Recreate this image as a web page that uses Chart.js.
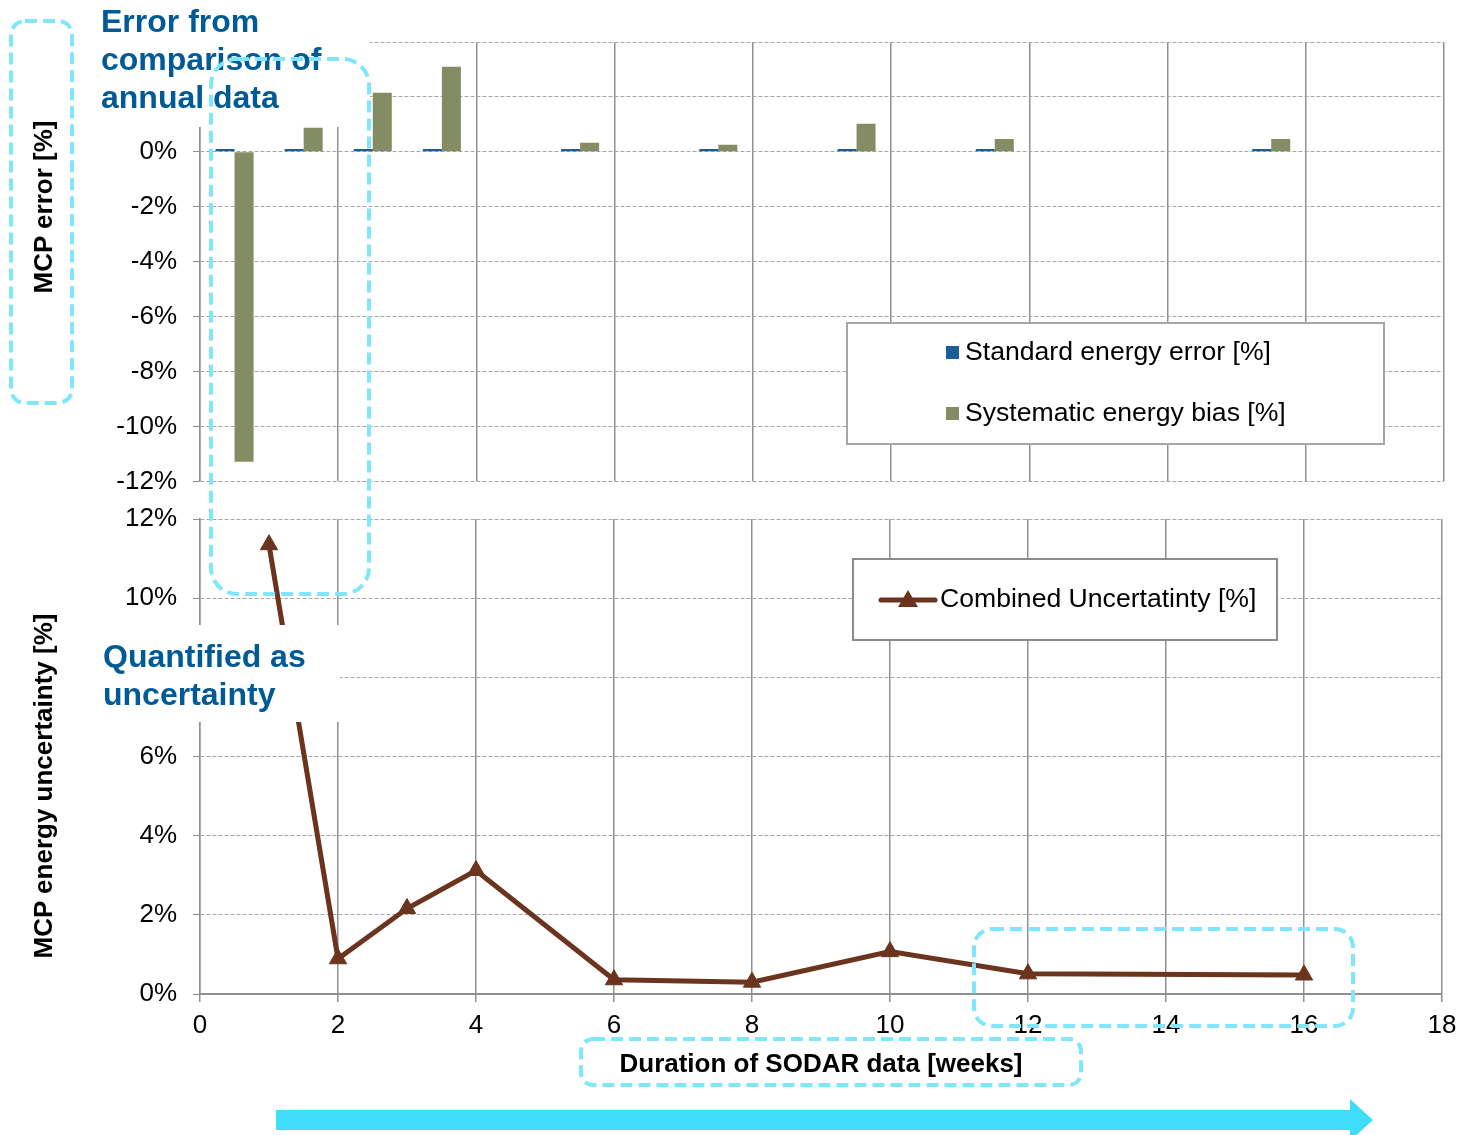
<!DOCTYPE html>
<html lang="en">
<head>
<meta charset="UTF-8">
<title>MCP error and uncertainty vs duration of SODAR data</title>
<script src="https://cdn.jsdelivr.net/npm/chart.js"></script>
<style>
    body { margin: 0; background: #fff; }
    #page { position: relative; width: 1461px; height: 1135px; overflow: hidden; }
    .holder { position: absolute; left: 0; width: 1461px; }
    #topHolder { top: 0; height: 513px; }
    #bottomHolder { top: 480px; height: 574px; }
    #overlay { position: absolute; left: 0; top: 0; pointer-events: none; }
</style>
</head>
<body>
<div id="page">
    <div class="holder" id="topHolder"><canvas id="errorChart"></canvas></div>
    <div class="holder" id="bottomHolder"><canvas id="uncertaintyChart"></canvas></div>

    <svg id="overlay" width="1461" height="1135" viewBox="0 0 1461 1135">
        <!-- white patches behind the callout texts -->
        <rect x="80" y="0" width="290" height="127" fill="#fff"/>
        <rect x="95" y="625" width="245" height="97" fill="#fff"/>
        <g font-family="Liberation Sans, Arial, sans-serif" font-weight="bold" font-size="32" fill="#005A96">
            <text x="101" y="32">Error from</text>
            <text x="101" y="70">comparison of</text>
            <text x="101" y="108">annual data</text>
            <text x="103" y="667">Quantified as</text>
            <text x="103" y="705">uncertainty</text>
        </g>
        <!-- axis titles -->
        <g font-family="Liberation Sans, Arial, sans-serif" font-weight="bold" font-size="26" fill="#000" text-anchor="middle">
            <text transform="translate(52,207) rotate(-90)">MCP error [%]</text>
            <text transform="translate(52,786) rotate(-90)">MCP energy uncertainty [%]</text>
            <text x="821" y="1072">Duration of SODAR data [weeks]</text>
        </g>
        <!-- dashed highlight boxes -->
        <g fill="none" stroke="#7FE6FC" stroke-width="4" stroke-dasharray="12 6">
            <rect x="11" y="21" width="61" height="382" rx="14"/>
            <rect x="211" y="59" width="158" height="535" rx="26"/>
            <rect x="974" y="929" width="379" height="97" rx="18"/>
            <rect x="581" y="1039" width="500" height="46" rx="12"/>
        </g>
        <path d="M276 1110 H1350 V1099 L1373 1120 L1350 1141 V1130 H276 Z" fill="#3FDDFB"/>
    </svg>
</div>

<script>
    // weeks of SODAR data that were tested
    const weeks = [1, 2, 3, 4, 6, 8, 10, 12, 16];
    const standardError = [0.1, 0.1, 0.1, 0.1, 0.1, 0.1, 0.1, 0.1, 0.1];
    const systematicBias = [-11.28, 0.88, 2.15, 3.10, 0.33, 0.26, 1.02, 0.47, 0.47];
    const combinedUncertainty = [11.35, 0.89, 2.16, 3.12, 0.36, 0.30, 1.07, 0.51, 0.48];
    // one category slot per week on the bar chart
    const weekSlots = [1, 2, 3, 4, 5, 6, 7, 8, 9, 10, 11, 12, 13, 14, 15, 16, 17, 18];

    const blue = '#1B5C9A';
    const green = '#838C63';
    const brown = '#6B341E';
    const gridGrey = '#909090';
    const dashGrey = '#a6a6a6';

    Chart.defaults.font.family = '"Liberation Sans", Arial, sans-serif';
    Chart.defaults.font.size = 26;
    Chart.defaults.color = '#000';

    function toSlots(values) {
        return weekSlots.map(w => {
            const i = weeks.indexOf(w);
            return i < 0 ? null : values[i];
        });
    }

    // legend drawn inside the plot, with a frame like the original
    const boxLegend = {
        id: 'boxLegend',
        afterDraw(chart, args, opts) {
            const ctx = chart.ctx;
            ctx.save();
            ctx.fillStyle = '#fff';
            ctx.fillRect(opts.x, opts.y, opts.w, opts.h);
            ctx.strokeStyle = opts.frame;
            ctx.lineWidth = 2;
            ctx.strokeRect(opts.x, opts.y, opts.w, opts.h);
            ctx.font = '26.6px "Liberation Sans", Arial, sans-serif';
            ctx.textBaseline = 'middle';
            chart.data.datasets.forEach((ds, i) => {
                const cy = opts.rows[i];
                if (opts.kind === 'bar') {
                    ctx.fillStyle = ds.backgroundColor;
                    ctx.fillRect(opts.symbolX, cy - 7, 13, 13);
                } else {
                    ctx.strokeStyle = ds.borderColor;
                    ctx.lineWidth = 5;
                    ctx.lineCap = 'round';
                    ctx.beginPath();
                    ctx.moveTo(opts.symbolX, cy);
                    ctx.lineTo(opts.symbolX + 54, cy);
                    ctx.stroke();
                    const cx = opts.symbolX + 27;
                    ctx.fillStyle = ds.borderColor;
                    ctx.beginPath();
                    ctx.moveTo(cx, cy - 10);
                    ctx.lineTo(cx + 10, cy + 7);
                    ctx.lineTo(cx - 10, cy + 7);
                    ctx.closePath();
                    ctx.fill();
                }
                ctx.fillStyle = '#000';
                ctx.fillText(ds.label, opts.textX, cy);
            });
            ctx.restore();
        }
    };

    new Chart(document.getElementById('errorChart'), {
        type: 'bar',
        data: {
            labels: weekSlots,
            datasets: [
                { label: 'Standard energy error [%]', data: toSlots(standardError), backgroundColor: blue },
                { label: 'Systematic energy bias [%]', data: toSlots(systematicBias), backgroundColor: green }
            ]
        },
        options: {
            responsive: true,
            maintainAspectRatio: false,
            animation: false,
            categoryPercentage: 0.55,
            barPercentage: 1,
            layout: { padding: { top: 42, right: 17, bottom: 20, left: 0 } },
            plugins: {
                legend: { display: false },
                tooltip: { enabled: false },
                boxLegend: {
                    kind: 'bar', x: 847, y: 323, w: 537, h: 121, frame: '#a6a6a6',
                    rows: [353, 414], symbolX: 946, textX: 965
                }
            },
            scales: {
                x: {
                    offset: true,
                    grid: {
                        offset: true,
                        drawTicks: false,
                        lineWidth: 1.5,
                        color: c => ((c.index ?? 18) % 2 === 0 ? gridGrey : 'rgba(0,0,0,0)')
                    },
                    border: { display: false },
                    ticks: { display: false },
                    afterFit: s => { s.height = 0; }
                },
                y: {
                    min: -12,
                    max: 4,
                    ticks: { stepSize: 2, padding: 16, callback: v => v + '%' },
                    grid: { color: dashGrey, tickColor: gridGrey, tickLength: 7, tickBorderDash: [] },
                    border: { color: gridGrey, width: 1.5, dash: [4, 2] },
                    afterFit: s => { s.width = 200; }
                }
            }
        },
        plugins: [boxLegend]
    });

    new Chart(document.getElementById('uncertaintyChart'), {
        type: 'line',
        data: {
            datasets: [{
                label: 'Combined Uncertatinty [%]',
                data: weeks.map((w, i) => ({ x: w, y: combinedUncertainty[i] })),
                borderColor: brown,
                backgroundColor: brown,
                borderWidth: 5,
                pointStyle: 'triangle',
                pointRadius: 10,
                pointBorderWidth: 1,
                tension: 0
            }]
        },
        options: {
            responsive: true,
            maintainAspectRatio: false,
            animation: false,
            layout: { padding: { top: 39, right: 19, bottom: 0, left: 0 } },
            plugins: {
                legend: { display: false },
                tooltip: { enabled: false },
                boxLegend: {
                    kind: 'line', x: 853, y: 79, w: 424, h: 81, frame: '#8c8c8c',
                    rows: [120], symbolX: 881, textX: 940
                }
            },
            scales: {
                x: {
                    type: 'linear',
                    min: 0,
                    max: 18,
                    ticks: { stepSize: 2, padding: 8 },
                    grid: { color: gridGrey, lineWidth: 1.5, tickLength: 8 },
                    border: { color: gridGrey, width: 2 },
                    afterFit: s => { s.height = 60; s.paddingLeft = 0; s.paddingRight = 0; }
                },
                y: {
                    min: 0,
                    max: 12,
                    ticks: { stepSize: 2, padding: 16, callback: v => v + '%' },
                    grid: { color: dashGrey, tickColor: gridGrey, tickLength: 7, tickBorderDash: [] },
                    border: { color: gridGrey, width: 1.5, dash: [4, 2] },
                    afterFit: s => { s.width = 200; }
                }
            }
        },
        plugins: [boxLegend]
    });
</script>
</body>
</html>
